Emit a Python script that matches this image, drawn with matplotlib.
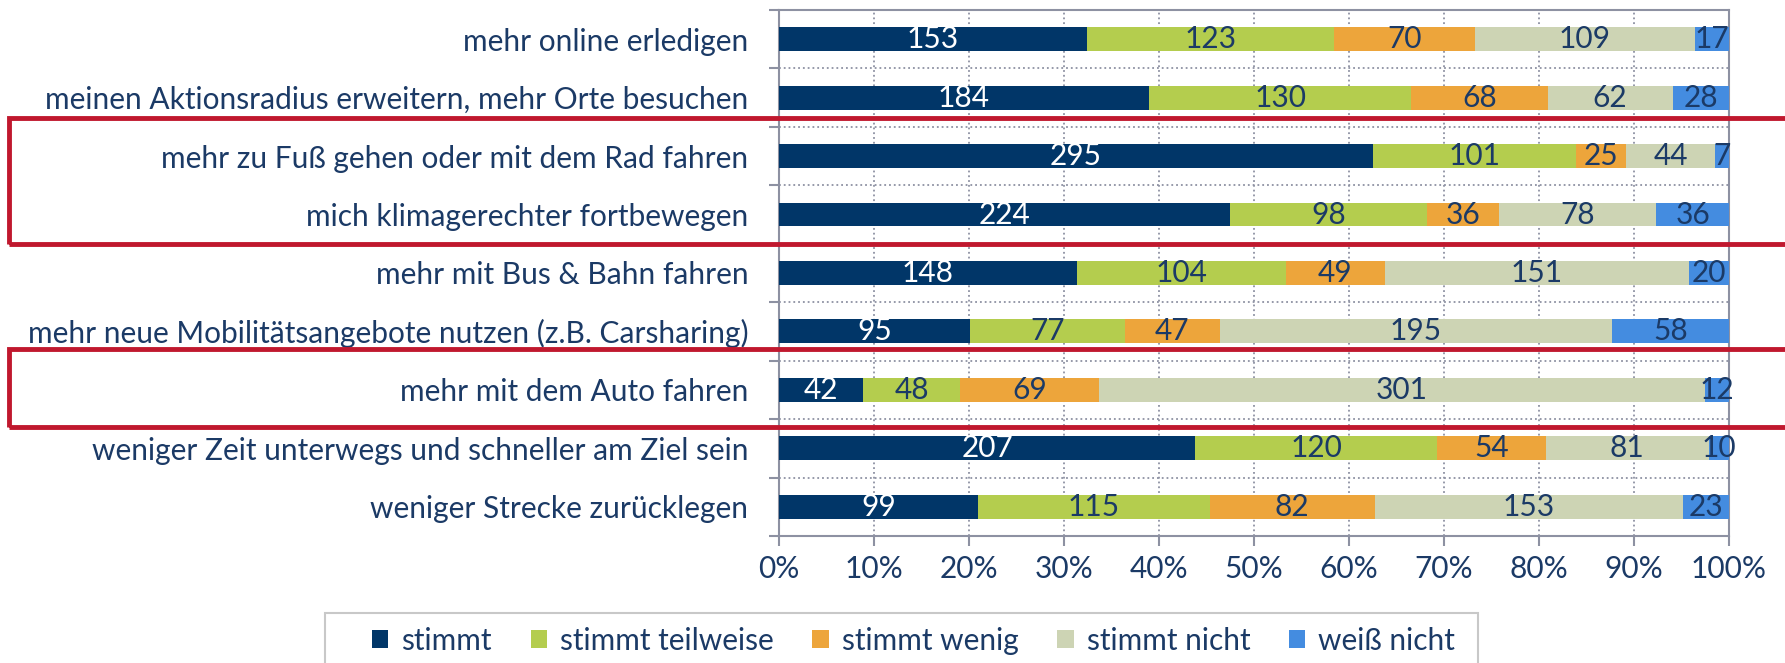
import matplotlib
matplotlib.use("Agg")
import matplotlib.pyplot as plt
from matplotlib.patches import Rectangle, Patch
import numpy as np

# --- data ---
categories = [
    "mehr online erledigen",
    "meinen Aktionsradius erweitern, mehr Orte besuchen",
    "mehr zu Fuß gehen oder mit dem Rad fahren",
    "mich klimagerechter fortbewegen",
    "mehr mit Bus & Bahn fahren",
    "mehr neue Mobilitätsangebote nutzen (z.B. Carsharing)",
    "mehr mit dem Auto fahren",
    "weniger Zeit unterwegs und schneller am Ziel sein",
    "weniger Strecke zurücklegen",
]
series_names = ["stimmt", "stimmt teilweise", "stimmt wenig", "stimmt nicht", "weiß nicht"]
stimmt = [153, 184, 295, 224, 148, 95, 42, 207, 99]
teilweise = [123, 130, 101, 98, 104, 77, 48, 120, 115]
wenig = [70, 68, 25, 36, 49, 47, 69, 54, 82]
nicht = [109, 62, 44, 78, 151, 195, 301, 81, 153]
weiss_nicht = [17, 28, 7, 36, 20, 58, 12, 10, 23]
x_ticklabels = ["0%", "10%", "20%", "30%", "40%", "50%", "60%", "70%", "80%", "90%", "100%"]

colors = ["#013668", "#B4CD4E", "#EDA53B", "#CDD4B4", "#448CE0"]
text_dark = "#1B3A66"
spine_col = "#8D91A2"
fs = 21.5

plt.rcParams['font.family'] = ['Lato', 'DejaVu Sans']

fig = plt.figure(figsize=(17.85, 6.63), dpi=100)
ax = fig.add_axes([0.4363, 0.1916, 0.5323, 0.7934])

data = np.array([stimmt, teilweise, wenig, nicht, weiss_nicht], dtype=float)
totals = data.sum(axis=0)
pct = data / totals * 100
y = np.arange(len(categories))

left = np.zeros(len(categories))
for i, name in enumerate(series_names):
    ax.barh(y, pct[i], left=left, height=0.41, color=colors[i], label=name, zorder=3)
    for j in range(len(categories)):
        cx = left[j] + pct[i][j] / 2
        tc = "white" if i == 0 else text_dark
        ax.text(cx, y[j], str(int(data[i][j])), ha="center", va="center",
                fontsize=fs, color=tc, zorder=4)
    left += pct[i]

ax.set_xlim(0, 100)
ax.set_ylim(len(categories) - 0.5, -0.5)
ax.set_xticks(np.arange(0, 101, 10))
ax.set_xticklabels(x_ticklabels, fontsize=fs, color=text_dark)
ax.set_yticks(y)
ax.set_yticklabels(categories, fontsize=fs, color=text_dark)
ax.set_yticks(np.arange(-0.5, len(categories), 1), minor=True)
ax.tick_params(axis="y", which="major", length=0, pad=22)
ax.tick_params(axis="y", which="minor", length=7, width=1.5, color=spine_col)
ax.tick_params(axis="x", which="major", length=7, width=1.5, color=spine_col, pad=7)

ax.grid(axis="x", which="major", linestyle=":", color="#8D91A2", linewidth=1.3, zorder=0)
ax.grid(axis="y", which="minor", linestyle=":", color="#8D91A2", linewidth=1.3, zorder=0)
for s in ax.spines.values():
    s.set_color(spine_col)
    s.set_linewidth(1.5)

# legend (frame drawn separately)
fig.patches.append(Rectangle((325 / 1785, -0.05), (1478 - 325) / 1785, 1.05 - 613 / 663,
                             transform=fig.transFigure, fill=False,
                             edgecolor="#C8C8C8", linewidth=1.5))
handles = [Patch(facecolor=c, edgecolor="none") for c in colors]
fig.legend(handles, series_names, loc="center left",
           bbox_to_anchor=(372 / 1785, 1 - 641 / 663), ncol=5,
           fontsize=fs, frameon=False, handlelength=0.55,
           handleheight=0.55, handletextpad=0.43, columnspacing=1.3,
           borderpad=0, borderaxespad=0, labelcolor=text_dark)

# red highlight boxes
red = "#C0182E"
fig.patches.append(Rectangle((9 / 1785, 1 - 244 / 663), 1.0, 126 / 663,
                             transform=fig.transFigure, fill=False,
                             edgecolor=red, linewidth=3.5, zorder=10))
fig.patches.append(Rectangle((9 / 1785, 1 - 427 / 663), 1.0, 78 / 663,
                             transform=fig.transFigure, fill=False,
                             edgecolor=red, linewidth=3.5, zorder=10))

fig.savefig("out.png", dpi=100)
